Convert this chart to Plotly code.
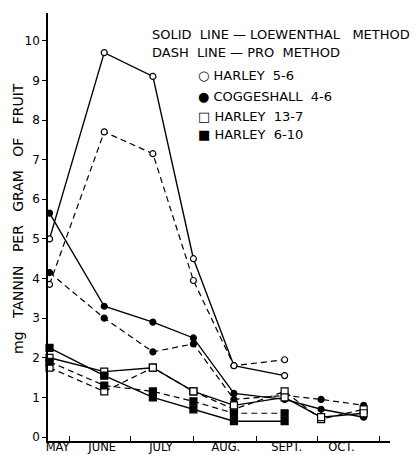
import plotly.graph_objects as go

# ---- data ----
dates = ["1960-05-22", "1960-06-18", "1960-07-12", "1960-08-01",
         "1960-08-21", "1960-09-15", "1960-10-03", "1960-10-24"]

harley56_loew = [5.0, 9.7, 9.1, 4.5, 1.8, 1.55]
harley56_pro = [3.85, 7.7, 7.15, 3.95, 1.8, 1.95]
cogg46_loew = [5.65, 3.3, 2.9, 2.5, 1.1, 0.95, 0.7, 0.5]
cogg46_pro = [4.15, 3.0, 2.15, 2.35, 0.95, 1.05, 0.95, 0.8]
harley137_loew = [2.0, 1.65, 1.75, 1.15, 0.8, 1.0, 0.5, 0.6]
harley137_pro = [1.75, 1.15, 1.75, 1.15, 0.7, 1.15, 0.45, 0.7]
harley610_loew = [2.25, 1.55, 1.0, 0.7, 0.4, 0.4]
harley610_pro = [1.9, 1.3, 1.15, 0.9, 0.6, 0.6]

month_labels = ["MAY", "JUNE", "JULY", "AUG.", "SEPT.", "OCT."]
month_label_dates = ["1960-05-26", "1960-06-17", "1960-07-16",
                     "1960-08-17", "1960-09-16", "1960-10-13"]
month_bounds = ["1960-06-01", "1960-07-01", "1960-08-01",
                "1960-09-01", "1960-10-01", "1960-11-01"]
y_ticks = list(range(0, 11))

FONT = "DejaVu Sans"

fig = go.Figure()

def add(vals, symbol, filled, dash):
    fig.add_trace(go.Scatter(
        x=dates[:len(vals)], y=vals, mode="lines+markers",
        line=dict(color="black", width=1.4 if dash == "solid" else 1.2, dash=dash),
        marker=dict(symbol=symbol, size=6 if symbol == "circle" else 7,
                    color="black" if filled else "white",
                    line=dict(color="black", width=1.2)),
        showlegend=False, cliponaxis=False))

DASH = "6px,4px"
add(harley56_pro, "circle", False, DASH)
add(harley56_loew, "circle", False, "solid")
add(cogg46_pro, "circle", True, DASH)
add(cogg46_loew, "circle", True, "solid")
add(harley137_pro, "square", False, DASH)
add(harley137_loew, "square", False, "solid")
add(harley610_pro, "square", True, DASH)
add(harley610_loew, "square", True, "solid")

legend_lines = [
    ("SOLID  LINE — LOEWENTHAL   METHOD", 0.298, 0.949),
    ("DASH  LINE — PRO  METHOD", 0.298, 0.907),
    ("○ HARLEY  5-6", 0.433, 0.853),
    ("● COGGESHALL  4-6", 0.433, 0.804),
    ("□ HARLEY  13-7", 0.433, 0.759),
    ("■ HARLEY  6-10", 0.433, 0.715),
]
for txt, x, y in legend_lines:
    fig.add_annotation(text=txt, x=x, y=y, xref="paper", yref="paper",
                       xanchor="left", yanchor="middle", showarrow=False,
                       font=dict(family=FONT, size=13, color="black"))

fig.add_annotation(text="mg   TANNIN   PER   GRAM   OF   FRUIT", textangle=-90,
                   x=-0.088, y=0.521, xref="paper", yref="paper",
                   xanchor="center", yanchor="middle", showarrow=False,
                   font=dict(family=FONT, size=14, color="black"))

# page body has an 8px margin: figure is sized/offset to compensate
fig.update_layout(
    width=410, height=447,
    margin=dict(l=40, r=28, t=5, b=14),
    paper_bgcolor="white", plot_bgcolor="white",
    font=dict(family=FONT, color="black"),
    xaxis=dict(
        type="date", range=["1960-05-21 06:00", "1960-11-06"],
        tickmode="array", tickvals=month_label_dates, ticktext=month_labels,
        ticks="", showgrid=False, zeroline=False, automargin=False,
        showline=True, linecolor="black", linewidth=1.5,
        tickfont=dict(family=FONT, size=11.5), ticklabelstandoff=-6,
        minor=dict(tickmode="array", tickvals=month_bounds, ticks="inside",
                   ticklen=5, tickcolor="black", tickwidth=1.2, showgrid=False),
    ),
    yaxis=dict(
        range=[-0.1, 10.7], tickmode="array", tickvals=y_ticks,
        ticks="outside", ticklen=4, tickcolor="black", tickwidth=1.2,
        showgrid=False, zeroline=False, automargin=False,
        showline=True, linecolor="black", linewidth=1.5,
        tickfont=dict(family=FONT, size=12),
    ),
)

fig.write_html("out.html")
